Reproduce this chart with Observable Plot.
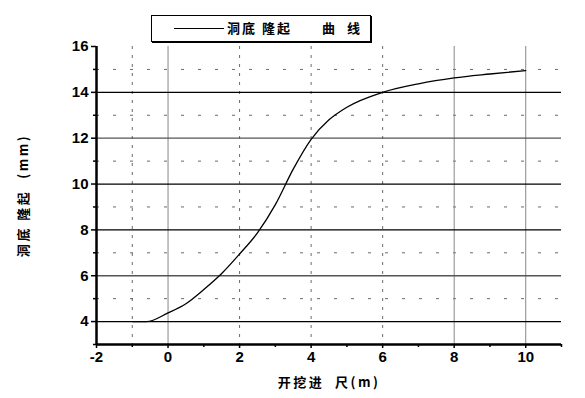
<!DOCTYPE html>
<html>
<head>
<meta charset="utf-8">
<script src="https://cdn.jsdelivr.net/npm/d3@7"></script>
<script src="https://cdn.jsdelivr.net/npm/@observablehq/plot@0.6"></script>
<style>
  html, body { margin: 0; padding: 0; background: #fff; }
  #wrap { position: relative; width: 585px; height: 398px; }
  #legend {
    position: absolute; left: 151px; top: 15px; width: 218px; height: 25px;
    border: 1px solid #000; box-shadow: 1px 1px 0 #000; background: #fff;
    font-family: "Noto Sans CJK SC", sans-serif; font-weight: 700; font-size: 13px;
  }
  #legend .sw { position: absolute; left: 22px; top: 12px; width: 50px; height: 0; border-top: 1.5px solid #000; }
  #legend .w { position: absolute; top: 3px; letter-spacing: 2px; line-height: 18px; }
  svg text { font-weight: bold; }
</style>
</head>
<body>
<div id="wrap"></div>
<script>
// data
const excavation = [-1, -0.6, 0, 0.5, 1, 1.5, 2, 2.5, 3, 3.5, 4, 4.5, 5, 6, 7, 8, 9, 10];
const heave = [4.0, 4.0, 4.38, 4.78, 5.4, 6.1, 6.95, 7.87, 9.1, 10.65, 11.95, 12.8, 13.35, 14.0, 14.37, 14.63, 14.8, 14.95];
const xTicks = [-2, 0, 2, 4, 6, 8, 10];
const xMinor = [-1, 1, 3, 5, 7, 9, 11];
const yTicks = [4, 6, 8, 10, 12, 14, 16];
const yMinor = [3, 5, 7, 9, 11, 13, 15];
const gridSolid = [4, 8, 10, 14];
const gridGray = [6, 12];
const gridDashed = [5, 7, 9, 11, 13, 15];
const vGridSolid = [0, 8, 10];
const vGridDashed = [-1, 2, 4, 6];
const seriesWords = ["洞底", "隆起", "曲", "线"];
const xLabel = "开挖进  尺(m)";
const yLabel = "洞底 隆起  (mm)";

const data = excavation.map((x, i) => ({x, y: heave[i]}));

const plot = Plot.plot({
  width: 585,
  height: 398,
  marginLeft: 96,
  marginRight: 24,
  marginTop: 46,
  marginBottom: 54,
  style: {fontFamily: "'Liberation Sans', Arial, sans-serif", fontSize: "15px", color: "#000", background: "#fff"},
  x: {domain: [-2, 11]},
  y: {domain: [3, 16]},
  marks: [
    Plot.ruleY(gridDashed, {stroke: "#444", strokeWidth: 0.8, strokeDasharray: "3,14"}),
    Plot.ruleX(vGridDashed, {stroke: "#444", strokeWidth: 0.8, strokeDasharray: "3,6"}),
    Plot.ruleX(vGridSolid, {stroke: "#888", strokeWidth: 1}),
    Plot.ruleY(gridGray, {stroke: "#555", strokeWidth: 1.3}),
    Plot.ruleY(gridSolid, {stroke: "#000", strokeWidth: 1.3}),
    Plot.line(data, {x: "x", y: "y", curve: "monotone-x", stroke: "#000", strokeWidth: 1.3}),
    Plot.axisX(xTicks, {tickFormat: d => d, tickSize: 4, tickPadding: 3, strokeWidth: 1.5,
      label: xLabel, labelAnchor: "center", labelOffset: 42, labelArrow: "none"}),
    Plot.axisX(xMinor, {tickFormat: () => "", tickSize: 3, strokeWidth: 1.5, label: null}),
    Plot.axisY(yTicks, {tickFormat: d => d, tickSize: 5, tickPadding: 3, strokeWidth: 1.5,
      label: yLabel, labelAnchor: "center", labelOffset: 78, labelArrow: "none"}),
    Plot.axisY(yMinor, {tickFormat: () => "", tickSize: 3, strokeWidth: 1.5, label: null}),
    Plot.ruleX([-2], {stroke: "#000", strokeWidth: 2.5}),
    Plot.ruleY([3], {stroke: "#000", strokeWidth: 2.5})
  ]
});

// style axis labels with CJK font
plot.querySelectorAll("text").forEach(t => {
  if (/[\u4e00-\u9fff]/.test(t.textContent)) {
    t.style.fontFamily = "'Noto Sans CJK SC', sans-serif";
    t.style.fontSize = "13px";
    t.style.fontWeight = "700";
    t.style.letterSpacing = "2.5px";
    t.style.whiteSpace = "pre";
  }
});

const wrap = document.getElementById("wrap");
wrap.appendChild(plot);
const legend = document.createElement("div");
legend.id = "legend";
const offsets = [75, 110, 170, 195];
legend.innerHTML = `<span class="sw"></span>` +
  seriesWords.map((w, i) => `<span class="w" style="left:${offsets[i]}px">${w}</span>`).join("");
wrap.appendChild(legend);
</script>
</body>
</html>
